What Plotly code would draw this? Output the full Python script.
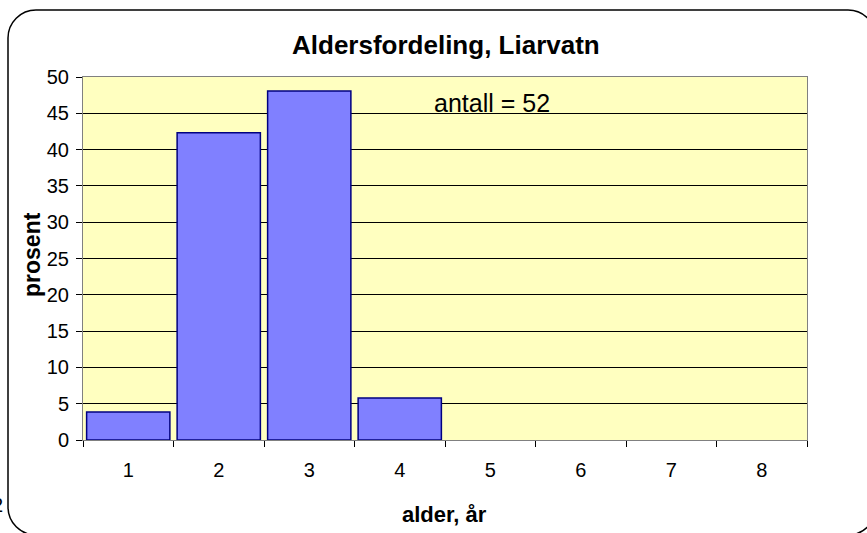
import plotly.graph_objects as go

# Age distribution of the fish sample from Liarvatn
ages = ["1", "2", "3", "4", "5", "6", "7", "8"]
percent = [3.85, 42.31, 48.08, 5.77, None, None, None, None]
y_ticks = [0, 5, 10, 15, 20, 25, 30, 35, 40, 45, 50]
sample_size = 52

W, H = 867, 533
L, R, T, B = 83, 807, 77, 440  # plot-area edges in pixels


def px(x):
    return (x - L) / (R - L)


def py(y):
    return (B - y) / (B - T)


FONT = "Arial, Liberation Sans, sans-serif"

fig = go.Figure(
    go.Bar(
        x=ages,
        y=percent,
        marker=dict(color="#8080FF", line=dict(color="#000080", width=1.5)),
        hoverinfo="x+y",
    )
)

# rounded frame around the whole chart (cubic corners approximating arcs)
x0, x1, y0, y1, r = 8, 876, 10, 535, 28
k = r * 0.4477  # distance from the corner to each Bezier control point


def P(x, y):
    return f"{px(x)},{py(y)}"


frame = (
    f"M {P(x0, y0 + r)} "
    f"C {P(x0, y0 + k)} {P(x0 + k, y0)} {P(x0 + r, y0)} "
    f"L {P(x1 - r, y0)} "
    f"C {P(x1 - k, y0)} {P(x1, y0 + k)} {P(x1, y0 + r)} "
    f"L {P(x1, y1 - r)} "
    f"C {P(x1, y1 - k)} {P(x1 - k, y1)} {P(x1 - r, y1)} "
    f"L {P(x0 + r, y1)} "
    f"C {P(x0 + k, y1)} {P(x0, y1 - k)} {P(x0, y1 - r)} Z"
)

fig.update_layout(
    width=W,
    height=H,
    margin=dict(l=L, r=W - R, t=T, b=H - B),
    paper_bgcolor="white",
    plot_bgcolor="#FFFFC0",
    bargap=0.08,
    showlegend=False,
    font=dict(family=FONT, color="black", size=20),
    xaxis=dict(
        type="category",
        tickson="boundaries",
        ticks="outside",
        ticklen=6,
        tickcolor="black",
        showline=True,
        linecolor="#808080",
        linewidth=1,
        mirror=True,
        showgrid=False,
        tickfont=dict(size=20),
        ticklabelstandoff=12,
    ),
    yaxis=dict(
        range=[0, 50],
        tickvals=y_ticks,
        ticks="outside",
        ticklen=6,
        tickcolor="black",
        showline=True,
        linecolor="#808080",
        linewidth=1,
        mirror=True,
        showgrid=True,
        gridcolor="black",
        gridwidth=1,
        zeroline=False,
        tickfont=dict(size=20),
        ticklabelstandoff=3,
    ),
    shapes=[
        dict(type="path", xref="paper", yref="paper", path=frame,
             line=dict(color="black", width=1.5), layer="below"),
    ],
    annotations=[
        dict(text="<b>Aldersfordeling, Liarvatn</b>", x=px(446), y=py(45),
             xref="paper", yref="paper", showarrow=False,
             font=dict(size=26), xanchor="center", yanchor="middle"),
        dict(text="<b>alder, år</b>", x=px(444), y=py(514),
             xref="paper", yref="paper", showarrow=False,
             font=dict(size=22), xanchor="center", yanchor="middle"),
        dict(text="<b>prosent</b>", x=px(32), y=py(255), textangle=-90,
             xref="paper", yref="paper", showarrow=False,
             font=dict(size=23), xanchor="center", yanchor="middle"),
        dict(text=f"antall = {sample_size}", x=px(492), y=py(103),
             xref="paper", yref="paper", showarrow=False,
             font=dict(size=25), xanchor="center", yanchor="middle"),
        dict(text="2", x=px(5), y=py(505),
             xref="paper", yref="paper", showarrow=False,
             font=dict(size=20), xanchor="right", yanchor="middle"),
    ],
)

fig.write_html("out.html")
